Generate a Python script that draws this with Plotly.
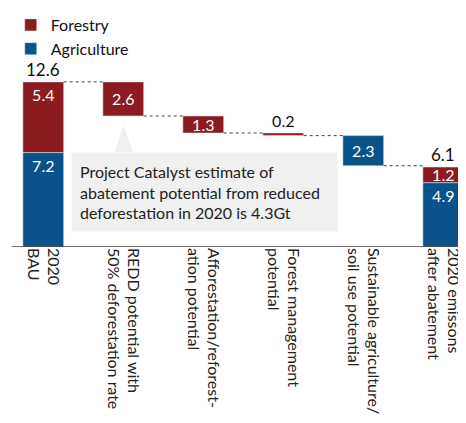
import plotly.graph_objects as go

categories = ["2020<br>BAU",
              "REDD potential with<br>50% deforestation rate",
              "Afforestation/reforest-<br>ation potential",
              "Forest management<br>potential",
              "Sustainable agriculture/<br>soil use potential",
              "2020 emissons<br>after abatement"]
forestry = [5.4, 2.6, 1.3, 0.2, None, 1.2]
agriculture = [7.2, None, None, None, 2.3, 4.9]
totals = [12.6, None, None, None, None, 6.1]
callout = "Project Catalyst estimate of<br>abatement potential from reduced<br>deforestation in 2020 is 4.3Gt"

RED = "#8c1b1f"
BLUE = "#09528a"
FONT = "Lato"

n = len(categories)
xs = list(range(n))

# waterfall bases
level = totals[0]
f_base, a_base, step_bottom = [], [], []
for i in range(n):
    if i == 0 or i == n - 1:
        a = agriculture[i] or 0
        a_base.append(0)
        f_base.append(a)
        step_bottom.append(totals[i])
    else:
        v_f = forestry[i] or 0
        v_a = agriculture[i] or 0
        level -= (v_f + v_a)
        f_base.append(level if forestry[i] else None)
        a_base.append(level if agriculture[i] else None)
        step_bottom.append(level)

bw = 0.51
fig = go.Figure()


def add_series(vals, bases, name, color):
    tall = [v if (v is not None and v >= 4) else None for v in vals]
    short = [v if (v is not None and v < 4) else None for v in vals]
    pos_short = ["outside" if (v is not None and v < 0.5) else "inside" for v in short]
    common = dict(base=bases, marker_color=color, width=bw, constraintext="none",
                  insidetextfont=dict(color="white", size=16, family=FONT),
                  outsidetextfont=dict(color="#111", size=16, family=FONT),
                  cliponaxis=False, legendgroup=name, name=name)
    fig.add_trace(go.Bar(x=xs, y=short, text=[f"{v:.1f}" if v else "" for v in short],
                         textposition=pos_short, insidetextanchor="middle",
                         showlegend=True, **common))
    fig.add_trace(go.Bar(x=xs, y=tall, text=[f"{v:.1f}" if v else "" for v in tall],
                         textposition="inside", insidetextanchor="end",
                         showlegend=False, **common))


add_series(forestry, f_base, "Forestry", RED)
add_series(agriculture, a_base, "Agriculture", BLUE)

shapes = []
# dotted connectors
for i in range(n - 1):
    yv = totals[0] if i == 0 else step_bottom[i]
    shapes.append(dict(type="line", xref="x", yref="y", x0=i + bw / 2, x1=i + 1 - bw / 2,
                       y0=yv, y1=yv, line=dict(color="#444", width=1, dash="dot")))
# baseline
shapes.append(dict(type="line", xref="paper", yref="y", x0=0.008, x1=1, y0=0, y1=0,
                   line=dict(color="#444", width=1.5)))
# callout pointer
shapes.append(dict(type="path", xref="x", yref="y",
                   path="M0.897,7.25 L1.0,9.3 L1.122,7.25 Z",
                   fillcolor="#f0f0f0", line=dict(width=0), layer="above"))

annotations = []
for i, t in enumerate(totals):
    if t is not None:
        annotations.append(dict(x=i, y=t, xref="x", yref="y", text=f"{t:.1f}", showarrow=False,
                                yanchor="bottom", font=dict(size=17, family=FONT, color="#111")))
annotations.append(dict(x=0.346, y=7.25, xref="x", yref="y", text=callout, showarrow=False,
                        xanchor="left", yanchor="top", align="left", width=249, height=62,
                        valign="middle", bgcolor="#f0f0f0", borderpad=8,
                        font=dict(size=16, family=FONT, color="#222")))

fig.update_layout(
    width=458, height=415, margin=dict(l=0, r=0, t=0, b=176),
    paper_bgcolor="white", plot_bgcolor="white",
    barmode="overlay",
    showlegend=True,
    legend=dict(x=0.006, y=1.0, xanchor="left", yanchor="top", bgcolor="rgba(0,0,0,0)",
                font=dict(size=16, family=FONT, color="#111"), traceorder="normal"),
    xaxis=dict(range=[-0.441, 5.284], tickvals=xs, ticktext=categories, tickangle=90,
               showgrid=False, zeroline=False, showline=False, ticks="",
               tickfont=dict(size=16, family=FONT, color="#222")),
    yaxis=dict(range=[0, 18.24], visible=False, showgrid=False, zeroline=False),
    shapes=shapes, annotations=annotations,
    font=dict(family=FONT),
)
fig.write_html("out.html")
